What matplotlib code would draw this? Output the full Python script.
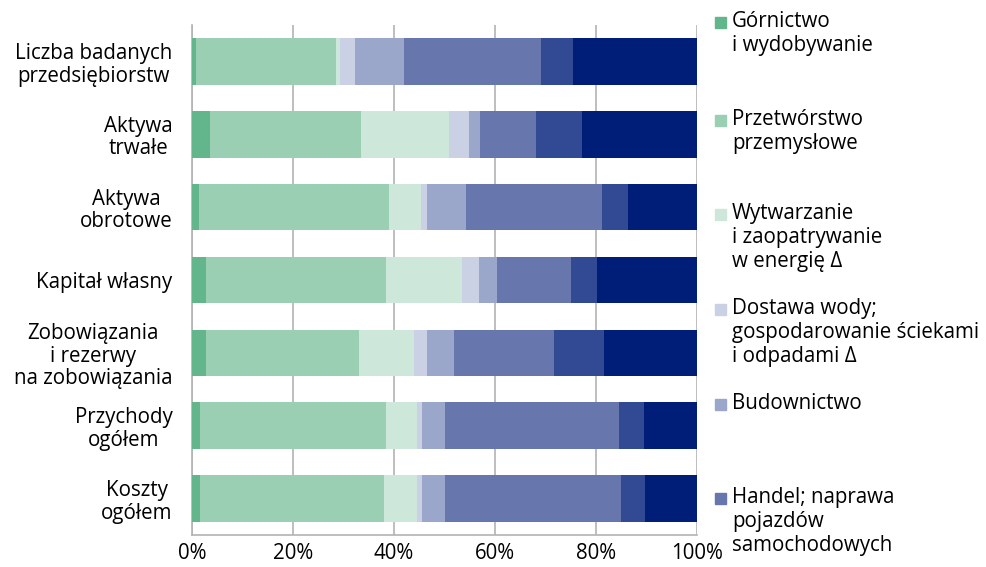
import matplotlib
matplotlib.use("Agg")
import matplotlib.pyplot as plt
import numpy as np
from matplotlib.patches import Rectangle

plt.rcParams['font.family'] = ['Open Sans', 'DejaVu Sans']

categories = ["Liczba badanych\nprzedsiębiorstw", "Aktywa\ntrwałe", "Aktywa\nobrotowe",
              "Kapitał własny", "Zobowiązania\ni rezerwy\nna zobowiązania",
              "Przychody\nogółem", "Koszty\nogółem"]

series_names = ["Górnictwo\ni wydobywanie", "Przetwórstwo\nprzemysłowe",
                "Wytwarzanie\ni zaopatrywanie\nw energię Δ",
                "Dostawa wody;\ngospodarowanie ściekami\ni odpadami Δ",
                "Budownictwo", "Handel; naprawa\npojazdów\nsamochodowych",
                "Sekcja 7", "Sekcja 8"]

gornictwo   = [0.7, 3.6, 1.3, 2.7, 2.7, 1.5, 1.5]
przetworstwo = [27.8, 29.8, 37.8, 35.7, 30.3, 36.9, 36.5]
wytwarzanie = [0.8, 17.4, 6.2, 15.1, 10.9, 6.2, 6.6]
dostawa     = [3.0, 4.1, 1.2, 3.4, 2.6, 0.9, 0.9]
budownictwo = [9.6, 2.2, 7.7, 3.4, 5.4, 4.5, 4.5]
handel      = [27.2, 11.0, 27.0, 14.8, 19.8, 34.5, 34.9]
sekcja7     = [6.3, 9.1, 5.1, 5.0, 9.8, 5.0, 4.8]
sekcja8     = [24.6, 22.8, 13.7, 19.9, 18.5, 10.5, 10.3]

values = [gornictwo, przetworstwo, wytwarzanie, dostawa, budownictwo, handel, sekcja7, sekcja8]
colors = ["#63b68c", "#9acfb4", "#cde7da", "#cbd1e5", "#9aa6ca", "#6777ad", "#324994", "#001e78"]

FS = 14.8

fig = plt.figure(figsize=(9.87, 5.67), dpi=100)
ax = fig.add_axes([192/987, 1-535/567, (697-192)/987, (535-25)/567])

y = np.arange(len(categories))
left = np.zeros(len(categories))
for vals, c in zip(values, colors):
    ax.barh(y, vals, left=left, color=c, height=0.64, zorder=3, edgecolor='none')
    left += np.array(vals)

ax.set_ylim(len(categories) - 0.5, -0.5)
ax.set_xlim(0, 100)
ax.set_yticks(y)
ax.set_yticklabels(categories, fontsize=FS, multialignment='center', linespacing=1.1)
ax.set_xticks(np.arange(0, 101, 20))
ax.set_xticklabels([f"{v}%" for v in range(0, 101, 20)], fontsize=FS)
ax.tick_params(axis='y', length=0, pad=14)
ax.tick_params(axis='x', length=0, pad=6)
ax.grid(axis='x', color='#b3b3b3', linewidth=1.2, zorder=0)
for s in ['top', 'right']:
    ax.spines[s].set_visible(False)
for s in ['left', 'bottom']:
    ax.spines[s].set_color('#b3b3b3')
    ax.spines[s].set_linewidth(1.2)

# legend (manual, first line aligned with marker)
leg_y = [22, 120, 214, 309, 404, 498]
for name, c, yy in zip(series_names[:6], colors[:6], leg_y):
    fig.patches.append(Rectangle((715/987, 1-(yy+6)/567), 11/987, 11/567,
                                 transform=fig.transFigure, color=c, figure=fig))
    fig.text(732/987, 1-(yy-11)/567, name, fontsize=FS, va='top', ha='left',
             linespacing=1.2)

fig.savefig("out.png", dpi=100)
